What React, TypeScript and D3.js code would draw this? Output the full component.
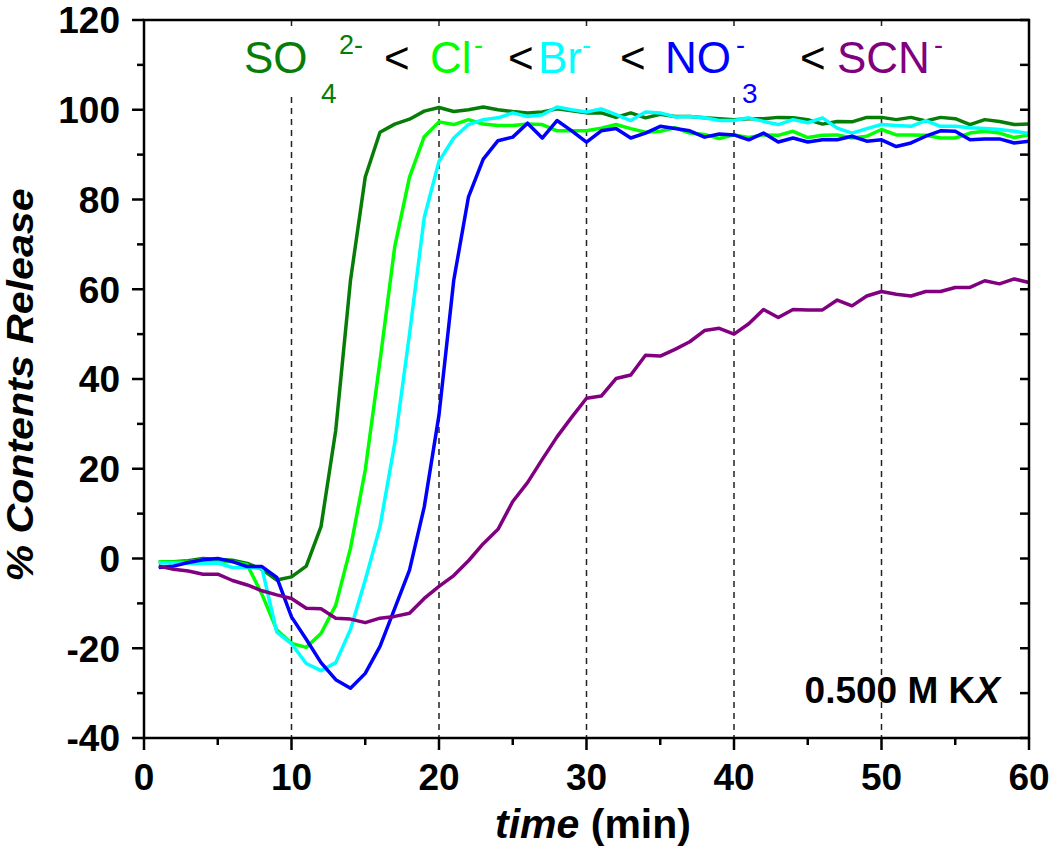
import React from "react";
import * as d3 from "d3";

const times = [1,2,3,4,5,6,7,8,9,10,11,12,13,14,15,16,17,18,19,20,21,22,23,24,25,26,27,28,29,30,31,32,33,34,35,36,37,38,39,40,41,42,43,44,45,46,47,48,49,50,51,52,53,54,55,56,57,58,59,60];

const so4 = [-0.7,-0.7,-0.5,0,-0.2,-0.4,-1.1,-2.4,-4.8,-4.1,-1.7,7.1,28.6,62,85,95,96.8,97.9,99.7,100.5,99.6,100,100.6,100,99.6,99.3,99.5,100.2,99.8,99.3,99.3,98.3,99.3,98.2,99,98.5,98.5,98.2,98,97.8,98,98,98.3,98.2,97.8,96.8,97.4,97.3,98.3,98.3,97.8,98.3,97.5,98.3,98,96.7,97.8,97.4,96.7,96.8];
const cl = [-0.7,-0.8,-0.7,-0.3,-0.5,-0.7,-1.4,-8,-15.9,-18.9,-19.8,-16.7,-10.4,2.3,19.7,44,69.5,85,94,97.3,96.7,97.8,96.8,96.5,96.5,96.8,96.7,95.3,95.3,95.3,95.9,96.7,95.8,95,95.2,96,94.8,94.5,93.6,94.4,93.8,94.4,94.3,95.2,93.8,94.3,94.4,93.7,94.1,95.6,94.4,94.4,94.3,93.7,93.7,94.8,95.2,94.8,93.8,94.4];
const br = [-1,-1,-1.1,-1.1,-1,-2,-2,-2.2,-16.4,-19,-23.4,-25,-23.2,-15.8,-4.8,7.1,25.7,50,76,88.5,93.7,96.7,97.8,98.2,99.3,98.5,98.9,100.6,100,99.5,100.2,98.9,97.6,99.5,99.3,98.4,98.5,98.2,97.6,97.6,98.2,97.4,96.7,97.8,97.1,98.2,95.9,94.8,95.8,96.7,96.5,96.3,97.6,96.3,96.3,96,95.8,95.6,95.2,94.7];
const no3 = [-2,-1.7,-0.9,-0.3,0,-0.7,-1.8,-1.8,-4.2,-13,-18,-23.2,-27,-28.9,-25.6,-19.6,-11.1,-2.6,11.5,32,62,80.6,89,93.1,93.9,97,93.7,97.6,95.3,92.8,95.3,95.8,93.7,94.8,96.3,95.8,95.3,93.9,94.6,94.4,93.3,94.8,92.8,93.7,92.8,93.3,93.3,94.1,93,93.3,91.8,92.6,94.1,95.3,95.2,93.3,93.5,93.5,92.6,93];
const scn = [-1.7,-2.4,-2.8,-3.5,-3.5,-4.9,-5.9,-7.2,-8.1,-8.9,-11.1,-11.2,-13.3,-13.5,-14.3,-13.3,-12.9,-12.2,-8.9,-6.2,-3.8,-0.5,3.3,6.5,12.7,16.9,22.1,27.1,31.5,35.7,36.2,40.1,40.9,45.3,45.1,46.6,48.3,50.8,51.3,50,52.3,55.5,53.7,55.5,55.4,55.4,57.6,56.3,58.5,59.5,58.9,58.5,59.5,59.5,60.4,60.4,61.9,61.2,62.3,61.5];

const seriesNames = ["SO4", "Cl", "Br", "NO3", "SCN"];
const seriesColors = ["#067d06", "#00ff00", "#00ffff", "#0000ff", "#800080"];
const seriesValues = [so4, cl, br, no3, scn];

const xTicks = [0, 10, 20, 30, 40, 50, 60];
const xMinor = [5, 15, 25, 35, 45, 55];
const yTicks = [-40, -20, 0, 20, 40, 60, 80, 100, 120];
const yMinor = [-30, -10, 10, 30, 50, 70, 90, 110];
const gridX = [10, 20, 30, 40, 50];

const FONT = "'Liberation Sans', Arial, Helvetica, sans-serif";

export default function App() {
  const L = 144, R = 1029, T = 20, B = 738;
  const x = d3.scaleLinear().domain([0, 60]).range([L, R]);
  const y = d3.scaleLinear().domain([-40, 120]).range([B, T]);
  const line = d3.line<[number, number]>().x(d => x(d[0])).y(d => y(d[1]));

  return (
    <svg width={1050} height={850} style={{ position: "absolute", left: 0, top: 0, background: "#fff" }} fontFamily={FONT}>
      <rect x={0} y={0} width={1050} height={850} fill="#fff" />
      {/* dashed grid */}
      {gridX.map(g => (
        <line key={"g" + g} x1={x(g)} x2={x(g)} y1={T} y2={B} stroke="#222" strokeWidth={1.5} strokeDasharray="6,5" />
      ))}
      {/* legend background */}
      <rect x={236} y={27} width={722} height={66} fill="#fff" />
      {/* data lines */}
      {seriesValues.map((vals, i) => (
        <path key={seriesNames[i]} d={line(times.map((t, j) => [t, vals[j]] as [number, number])) || ""}
          fill="none" stroke={seriesColors[i]} strokeWidth={3.5} strokeLinejoin="round" />
      ))}
      {/* frame */}
      <rect x={L} y={T} width={R - L} height={B - T} fill="none" stroke="#000" strokeWidth={2.5} />
      {/* left ticks */}
      {yTicks.map(v => (
        <g key={"yt" + v}>
          <line x1={L - 12} x2={L} y1={y(v)} y2={y(v)} stroke="#000" strokeWidth={2.5} />
          <line x1={R - 9} x2={R} y1={y(v)} y2={y(v)} stroke="#000" strokeWidth={2.5} />
          <text x={120} y={y(v)} dy="0.36em" textAnchor="end" fontSize={37} fontWeight="bold">{v}</text>
        </g>
      ))}
      {yMinor.map(v => (
        <g key={"ym" + v}>
          <line x1={L - 7} x2={L} y1={y(v)} y2={y(v)} stroke="#000" strokeWidth={2.5} />
          <line x1={R - 9} x2={R} y1={y(v)} y2={y(v)} stroke="#000" strokeWidth={2.5} />
        </g>
      ))}
      {/* bottom ticks */}
      {xTicks.map(v => (
        <g key={"xt" + v}>
          <line x1={x(v)} x2={x(v)} y1={B} y2={B + 12} stroke="#000" strokeWidth={2.5} />
          <text x={x(v)} y={790} textAnchor="middle" fontSize={37} fontWeight="bold">{v}</text>
        </g>
      ))}
      {xMinor.map(v => (
        <line key={"xm" + v} x1={x(v)} x2={x(v)} y1={B} y2={B + 7} stroke="#000" strokeWidth={2.5} />
      ))}
      {/* axis titles */}
      <text x={593} y={838} textAnchor="middle" fontSize={41} fontWeight="bold">
        <tspan fontStyle="italic">time</tspan> (min)
      </text>
      <text transform="translate(33,385) rotate(-90)" textAnchor="middle" fontSize={37} fontWeight="bold" fontStyle="italic"
        textLength={393} lengthAdjust="spacingAndGlyphs">% Contents Release</text>
      {/* legend */}
      <g fontSize={44}>
        <text x={244} y={73} fill={seriesColors[0]}>SO</text>
        <text x={321} y={103} fontSize={28} fill={seriesColors[0]}>4</text>
        <text x={339} y={54} fontSize={27} fill={seriesColors[0]}>2-</text>
        <text x={384} y={73} fill="#000">&lt;</text>
        <text x={430} y={73} fill={seriesColors[1]}>Cl</text>
        <text x={474} y={54} fontSize={27} fill={seriesColors[1]}>-</text>
        <text x={508} y={73} fill="#000">&lt;</text>
        <text x={538} y={73} fill={seriesColors[2]}>Br</text>
        <text x={582} y={54} fontSize={27} fill={seriesColors[2]}>-</text>
        <text x={620} y={73} fill="#000">&lt;</text>
        <text x={665} y={73} fill={seriesColors[3]}>NO</text>
        <text x={742} y={103} fontSize={28} fill={seriesColors[3]}>3</text>
        <text x={736} y={54} fontSize={27} fill={seriesColors[3]}>-</text>
        <text x={800} y={73} fill="#000">&lt;</text>
        <text x={837} y={73} fill={seriesColors[4]}>SCN</text>
        <text x={934} y={54} fontSize={27} fill={seriesColors[4]}>-</text>
      </g>
      {/* condition label */}
      <text x={1000} y={703} textAnchor="end" fontSize={37} fontWeight="bold">
        0.500 M K<tspan fontStyle="italic">X</tspan>
      </text>
    </svg>
  );
}
